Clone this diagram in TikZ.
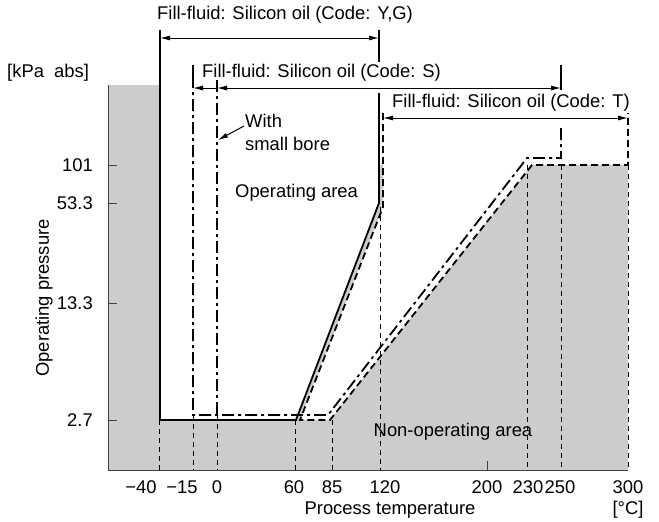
\documentclass[tikz,border=0pt]{standalone}
\usepackage{fontspec}
\setmainfont{Liberation Sans}
\usetikzlibrary{arrows.meta}

\begin{document}
\begin{tikzpicture}[x=1pt,y=-1pt,
		every node/.style={font=\fontsize{18.4}{23}\selectfont, inner sep=1pt},
		fluidYG/.style={line width=1.8pt},
		fluidS/.style={line width=1.8pt, dash pattern=on 12pt off 4pt on 3pt off 4pt},
		fluidT/.style={line width=1.8pt, dash pattern=on 7pt off 4pt},
		guide/.style={line width=0.8pt, dash pattern=on 5pt off 4pt},
		span/.style={line width=1pt, {Latex[length=10pt,width=5pt]}-{Latex[length=10pt,width=5pt]}},
		tip/.style={line width=1pt, -{Latex[length=10pt,width=5pt]}},
		area/.style={fill=black!20}]
		\useasboundingbox (0,0) rectangle (659,522);

		% non-operating area
		\fill[area] (108,85) rectangle (159,470);
		\fill[area] (108,420) rectangle (628,470);
		\fill[area] (330,420) -- (532,165) -- (628,165) -- (628,420) -- cycle;
		\fill[area] (379,165) -- (379,203) -- (296,420) -- (300,420) -- (383,207) -- (383,165) -- cycle;

		% axes and ticks
		\draw[line width=1pt, black!75] (108,85) -- (108,470) -- (628,470);
		\foreach \y/\p in {165/101, 203/53.3, 303/13.3, 420/2.7} {
			\draw[line width=1pt, black!75] (108,\y) -- (117,\y);
			\node[anchor=east] at (94,\y) {\p};
		}
		\draw[line width=1pt, black!75] (487,461) -- (487,470);
		\foreach \x/\t in {141/−40, 182/−15, 217/0, 294/60, 332/85, 385/120, 487/200, 528/230, 560/250, 628/300}
			\node at (\x,487) {\t};

		% guide lines down to the axis
		\foreach \x/\y in {159/420, 193/415, 217/415, 295/420, 332/420, 380/207, 527/165, 561/165, 628/165}
			\draw[guide] (\x,\y) -- (\x,470);

		% fill-fluid Y,G
		\draw[fluidYG] (379,93) -- (379,203) -- (296,420) -- (160,420) -- (160,30);
		\draw[fluidYG] (379,30) -- (379,62);
		% fill-fluid S (and small bore)
		\draw[fluidS] (561,128) -- (561,158) -- (527,158) -- (328,415) -- (193,415) -- (193,88);
		\draw[fluidYG] (193,65) -- (193,88);
		\draw[fluidYG] (561,65) -- (561,90);
		\draw[fluidS] (217,80) -- (217,415);
		% fill-fluid T
		\draw[fluidT] (383,113) -- (383,207) -- (300,420) -- (330,420) -- (532,165) -- (628,165) -- (628,113);

		% ranges
		\draw[span] (160,38) -- (379,38);
		\draw[span] (217,88) -- (561,88);
		\draw[tip] (217,88) -- (193,88);
		\draw[span] (383,118) -- (628,118);

		\node[anchor=west] (rangeYG) at (156,15) {Fill-fluid: Silicon oil (Code: Y,G)};
		\node[anchor=west] (rangeS) at (201,73) {Fill-fluid: Silicon oil (Code: S)};
		\node[anchor=west, fill=white] (rangeT) at (391,103) {Fill-fluid: Silicon oil (Code: T)};

		\node[anchor=north west, align=left] (bore) at (244,113) {With\\small bore};
		\coordinate (boretip) at (218,140);
		\draw[tip] ([yshift=-13pt]bore.north west) -- (boretip);

		\node[anchor=west] (oparea) at (234,193) {Operating area};
		\node (nonop) at (453,432) {Non-operating area};

		\node[anchor=west] (unitp) at (6,73) {[kPa~~abs]};
		\node[rotate=90] (ylabel) at (44,298) {Operating pressure};
		\node (xlabel) at (390,510) {Process temperature};
		\node (unitt) at (628,510) {[°C]};
	\end{tikzpicture}
\end{document}
